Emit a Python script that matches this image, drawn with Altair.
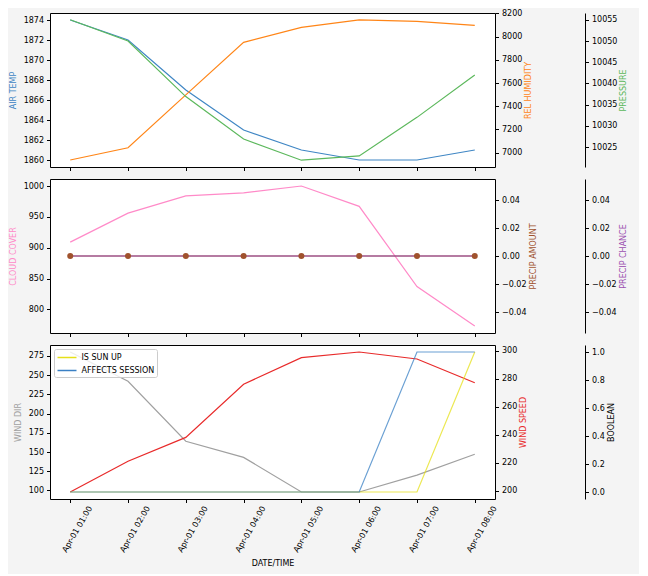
import altair as alt
import pandas as pd

# ---------------- data ----------------
times = ["2024-04-01T01:00:00", "2024-04-01T02:00:00", "2024-04-01T03:00:00",
         "2024-04-01T04:00:00", "2024-04-01T05:00:00", "2024-04-01T06:00:00",
         "2024-04-01T07:00:00", "2024-04-01T08:00:00"]
air_temp = [1874, 1872, 1867, 1863, 1861, 1860, 1860, 1861]
rel_humidity = [6937, 7043, 7498, 7950, 8079, 8143, 8131, 8097]
pressure = [10055, 10050, 10036.9, 10026.9, 10021.9, 10022.9, 10032, 10042]
cloud_cover = [909, 956, 984, 989, 1000, 967, 837, 773]
precip_amount = [0, 0, 0, 0, 0, 0, 0, 0]
precip_chance = [0, 0, 0, 0, 0, 0, 0, 0]
wind_dir = [280, 242, 164, 143, 98, 98, 120, 147]
wind_speed = [199, 221, 238, 276, 295, 299, 294, 277]
is_sun_up = [0, 0, 0, 0, 0, 0, 0, 1]
affects_session = [0, 0, 0, 0, 0, 0, 1, 1]
bool_names = ["IS SUN UP", "AFFECTS SESSION"]

air_ticks = [1860, 1862, 1864, 1866, 1868, 1870, 1872, 1874]
hum_ticks = [7000, 7200, 7400, 7600, 7800, 8000, 8200]
pres_ticks = [10025, 10030, 10035, 10040, 10045, 10050, 10055]
cloud_ticks = [800, 850, 900, 950, 1000]
precip_ticks = [-0.04, -0.02, 0.0, 0.02, 0.04]
wdir_ticks = [100, 125, 150, 175, 200, 225, 250, 275]
wspd_ticks = [200, 220, 240, 260, 280, 300]
bool_ticks = [0.0, 0.2, 0.4, 0.6, 0.8, 1.0]

df = pd.DataFrame({
    "time": times, "air": air_temp, "hum": rel_humidity, "pres": pressure,
    "cloud": cloud_cover, "pamt": precip_amount, "pch": precip_chance,
    "wdir": wind_dir, "wspd": wind_speed,
    "IS SUN UP": is_sun_up, "AFFECTS SESSION": affects_session,
})

# ---------------- style ----------------
FONT = "DejaVu Sans"
C_AIR = "#3f86c4"
C_HUM = "#ff8517"
C_PRES = "#5cb85c"
C_CLOUD = "#ff8ac8"
C_PAMT = "#a0522d"
C_PCH = "#9b4fb0"
C_WDIR = "#a0a0a0"
C_WSPD = "#e82a2a"
C_SUN = "#e6e01a"
C_AFF = "#3a80c4"
W, H = 445, 154
LW = 1.2

x_dom = [alt.DateTime(year=2024, month=4, date=1, hours=0, minutes=39),
         alt.DateTime(year=2024, month=4, date=1, hours=8, minutes=21)]
x_vals = [alt.DateTime(year=2024, month=4, date=1, hours=h) for h in range(1, 9)]


def xenc(show):
    if show:
        ax = alt.Axis(values=x_vals, format="%b-%d %H:%M", labelAngle=-60,
                      labelAlign="right", labelBaseline="middle", labelOffset=20,
                      labelPadding=4, titlePadding=6)
        return alt.X("time:T", scale=alt.Scale(domain=x_dom), axis=ax, title="DATE/TIME")
    ax = alt.Axis(values=x_vals, labels=False)
    return alt.X("time:T", scale=alt.Scale(domain=x_dom), axis=ax, title=None)


def yaxis(orient, vals, fmt, title, color, offset=0):
    kw = dict(orient=orient, values=vals, format=fmt, title=title, titleColor=color)
    if orient == "right":
        kw.update(titleAngle=270, titleBaseline="top", titlePadding=3)
        if offset:
            kw.update(offset=offset, domain=True)
    else:
        kw.update(titlePadding=6)
    return alt.Axis(**kw)


def ys(field, dom, axis):
    return alt.Y(field, scale=alt.Scale(domain=dom, nice=False, zero=False), axis=axis)


base = alt.Chart(df)

# ---- panel 1 ----
x1 = xenc(False)
p1 = alt.layer(
    base.mark_line(color=C_AIR, strokeWidth=LW).encode(
        x=x1, y=ys("air:Q", [1859.3, 1874.7], yaxis("left", air_ticks, "d", "AIR TEMP", C_AIR))),
    base.mark_line(color=C_HUM, strokeWidth=LW).encode(
        x=x1, y=ys("hum:Q", [6877, 8203], yaxis("right", hum_ticks, "d", "REL HUMIDITY", C_HUM))),
    base.mark_line(color=C_PRES, strokeWidth=LW).encode(
        x=x1, y=ys("pres:Q", [10020.3, 10056.6], yaxis("right", pres_ticks, "d", "PRESSURE", C_PRES, 90))),
).resolve_scale(y="independent").properties(width=W, height=H)

# ---- panel 2 ----
x2 = xenc(False)
p2 = alt.layer(
    base.mark_line(color=C_CLOUD, strokeWidth=LW).encode(
        x=x2, y=ys("cloud:Q", [761.6, 1011.4], yaxis("left", cloud_ticks, "d", "CLOUD COVER", C_CLOUD))),
    base.mark_line(color=C_PAMT, strokeWidth=LW).encode(
        x=x2, y=ys("pamt:Q", [-0.055, 0.055], yaxis("right", precip_ticks, ".2f", "PRECIP AMOUNT", C_PAMT))),
    base.mark_line(color=C_PCH, strokeWidth=LW).encode(
        x=x2, y=ys("pch:Q", [-0.055, 0.055], yaxis("right", precip_ticks, ".2f", "PRECIP CHANCE", C_PCH, 90))),
    base.mark_circle(color=C_PAMT, size=36, opacity=1).encode(
        x=x2, y=alt.Y("pamt:Q", scale=alt.Scale(domain=[-0.055, 0.055], nice=False, zero=False), axis=None)),
).resolve_scale(y="independent").properties(width=W, height=H)

# ---- panel 3 ----
x3 = xenc(True)
bool_layer = base.transform_fold(bool_names, as_=["key", "val"]).mark_line(
    strokeWidth=LW, opacity=0.75).encode(
    x=x3,
    y=ys("val:Q", [-0.05, 1.05], yaxis("right", bool_ticks, ".1f", "BOOLEAN", "black", 90)),
    color=alt.Color("key:N", scale=alt.Scale(domain=bool_names, range=[C_SUN, C_AFF]),
                    legend=alt.Legend(title=None, orient="none", legendX=4, legendY=4,
                                      direction="vertical", symbolType="M-1,0H2.8",
                                      symbolSize=100, symbolStrokeWidth=1.5,
                                      symbolOpacity=1,
                                      labelFontSize=8, labelFont=FONT, labelColor="black",
                                      fillColor="rgba(255,255,255,0.8)", strokeColor="#cccccc",
                                      padding=2.5, rowPadding=3, labelOffset=13,
                                      cornerRadius=2)),
)
p3 = alt.layer(
    base.mark_line(color=C_WDIR, strokeWidth=LW).encode(
        x=x3, y=ys("wdir:Q", [88.9, 289.1], yaxis("left", wdir_ticks, "d", "WIND DIR", C_WDIR))),
    base.mark_line(color=C_WSPD, strokeWidth=LW).encode(
        x=x3, y=ys("wspd:Q", [194, 304], yaxis("right", wspd_ticks, "d", "WIND SPEED", C_WSPD))),
    bool_layer,
).resolve_scale(y="independent").properties(width=W, height=H)

chart = alt.vconcat(p1, p2, p3, spacing=12, bounds="flush").resolve_legend(
    color="independent"
).properties(
    padding={"left": 0, "top": 0, "right": 10, "bottom": 5}
).configure(
    background="#f4f4f4", font=FONT
).configure_view(
    fill="white", stroke="black", strokeWidth=1
).configure_axis(
    labelFont=FONT, titleFont=FONT, labelFontSize=8, titleFontSize=8,
    titleFontWeight="normal", labelColor="black", titleColor="black",
    tickColor="black", domainColor="black", tickSize=3.5, labelPadding=3,
    grid=False, labelOverlap=False, labelFlush=False, domain=False
)

chart.save("out.html", embed_options={"renderer": "svg", "actions": False})
